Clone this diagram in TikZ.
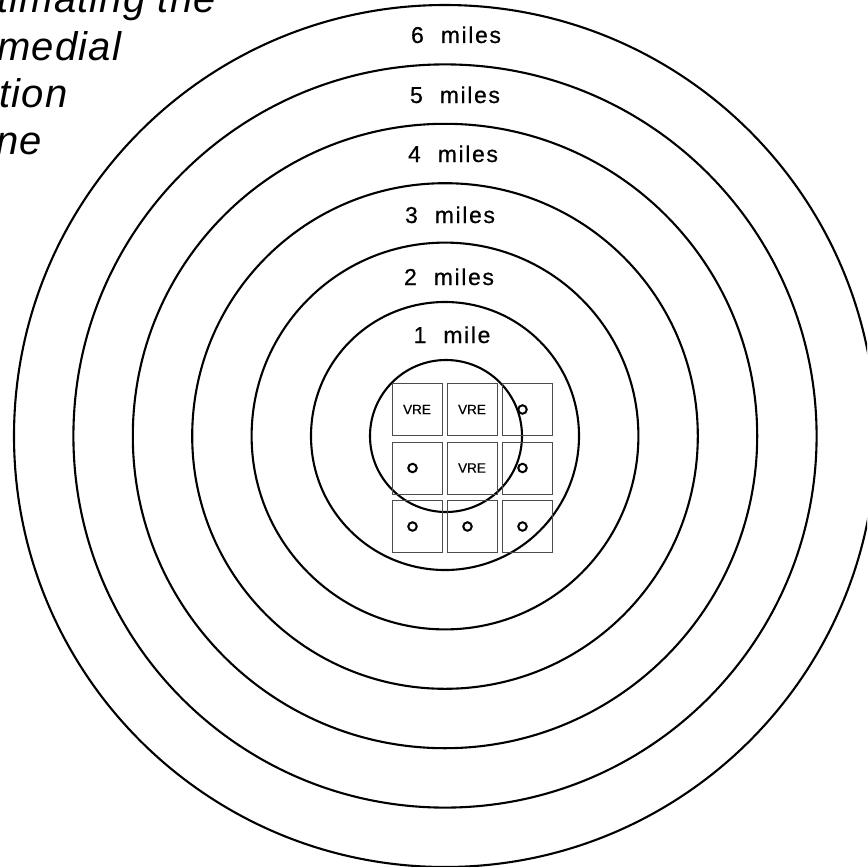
\documentclass[tikz,border=0pt]{standalone}
\usepackage{fontspec}
\setmainfont{Liberation Sans}
\newfontfamily\headfont[LetterSpace=3]{Liberation Sans}
\newfontfamily\ringfont[LetterSpace=7,FakeBold=0.6]{Liberation Sans}
\newfontfamily\cellfont[FakeBold=0.4]{Liberation Sans}
\usetikzlibrary{positioning}
\tikzset{
    % Distance rings round the site
    ring/.style={
        draw=black,
        line width=2.1pt,
    },
    % Mile labels above each ring
    ring label/.style={
        font=\ringfont\fontsize{23}{25}\selectfont,
        text=black,
        inner sep=0pt,
        anchor=base,
    },
    % Grid cells of the site
    cell/.style={
        draw=black!70,
        line width=0.9pt,
        minimum width=50pt,
        minimum height=52pt,
        inner sep=0pt,
    },
    % VRE marks in the cells
    cell text/.style={
        font=\cellfont\fontsize{13.5}{14}\selectfont,
        inner sep=0pt,
    },
    % Small sample markers
    site mark/.style={
        circle,
        draw=black,
        line width=2pt,
        minimum size=8.5pt,
        inner sep=0pt,
    },
    % Heading lines, cut at the page edge
    head line/.style={
        font=\headfont\itshape\fontsize{40}{44}\selectfont,
        anchor=base west,
        inner sep=0pt,
    },
}

\begin{document}
\begin{tikzpicture}[x=1pt, y=-1pt]
    \useasboundingbox (0,0) rectangle (867,867);
    \clip (0,0) rectangle (867,867);
    \fill[white] (0,0) rectangle (867,867);

    % heading
    \node[head line] (head1) at (-3,13) {timating the};
    \node[head line] (head2) at (-3,60) {medial};
    \node[head line] (head3) at (-1,107) {tion};
    \node[head line] (head4) at (-4,154) {ne};

    % rings
    \coordinate (hub) at (445,436);
    \foreach \k in {1,...,6}
        \draw[ring] (hub) circle[radius={134+59.4*(\k-1)}];
    \draw[ring] (446,436) circle[radius=76];

    % ring labels
    \foreach \k/\x/\y/\word in {6/456/43/miles, 5/455/103/miles, 4/453/162/miles,
                               3/450/223/miles, 2/449/285/miles, 1/452/343/mile}
        \node[ring label] (label\k) at (\x,\y) {\k\hspace{17pt}\word};

    % grid of cells
    \foreach \r in {1,2,3}
        \foreach \c in {1,2,3}
            \node[cell] (cell-\r-\c) at ({362+55*\c},{351+58.5*\r}) {};

    % contents of the cells
    \foreach \r/\c in {1/1, 1/2, 2/2}
        \node[cell text] (vre-\r-\c) at (cell-\r-\c) {VRE};
    \foreach \r/\c in {1/3, 2/1, 2/3, 3/1, 3/2, 3/3}
        \node[site mark] (mark-\r-\c) at ([xshift=-4.5pt]cell-\r-\c.center) {};
\end{tikzpicture}
\end{document}
